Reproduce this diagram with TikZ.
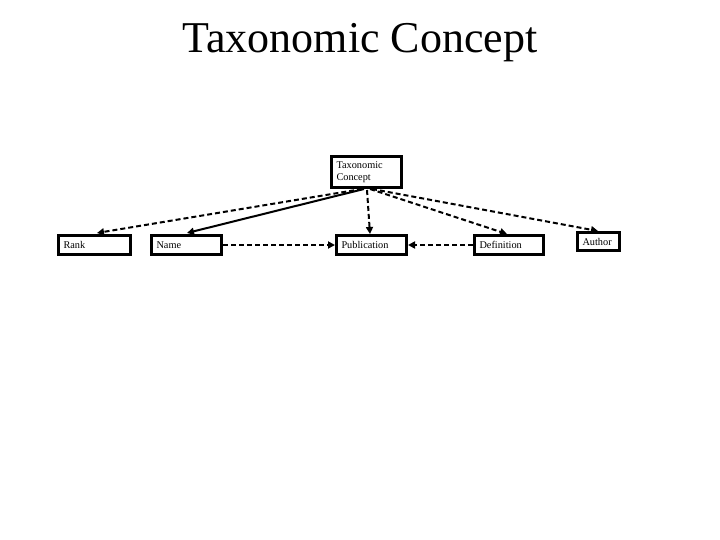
\documentclass[tikz,border=0pt]{standalone}
\usepackage{fontspec}
\setmainfont{Liberation Serif}
\usetikzlibrary{arrows.meta}
\begin{document}
\begin{tikzpicture}[x=1pt,y=-1pt,
  box/.style={draw=black,line width=3pt,inner xsep=5pt,inner ysep=0pt,
    align=left,font=\fontsize{10.3}{12}\selectfont,minimum height=19pt},
  dashconn/.style={line width=2pt,dash pattern=on 5pt off 3pt,
    -{Triangle[length=7pt,width=7pt]}},
  solidconn/.style={line width=2pt,-{Triangle[length=7pt,width=7pt]}}]
\fill[white] (0,0) rectangle (720,540);
\useasboundingbox (0,0) rectangle (720,540);
\node[anchor=base,font=\fontsize{44}{52}\selectfont] (title) at (360,53) {Taxonomic Concept};
\node[box,minimum height=31pt,text width=60pt] (tax) at (366.5,172) {Taxonomic\\Concept};
\node[box,text width=62pt] (rank) at (94.5,245) {Rank};
\node[box,text width=60pt] (name) at (186.5,245) {Name};
\node[box,text width=60pt] (pub) at (371.5,245) {Publication};
\node[box,text width=59pt] (def) at (509,245) {Definition};
\node[box,text width=32pt,minimum height=18pt] (auth) at (598.5,241.5) {Author};
\coordinate (sr) at (362,189);
\coordinate (sn) at (364,189);
\coordinate (sp) at (367,190);
\coordinate (sd) at (370,189);
\coordinate (sa) at (372,189);
\coordinate (tr) at (97,233);
\coordinate (tn) at (187,233);
\coordinate (tp) at (370,234);
\coordinate (td) at (507,234);
\coordinate (ta) at (598,231);
\draw[dashconn] (sr) -- (tr);
\draw[solidconn] (sn) -- (tn);
\draw[dashconn] (sp) -- (tp);
\draw[dashconn] (sd) -- (td);
\draw[dashconn] (sa) -- (ta);
\draw[dashconn] (name.east) -- (pub.west);
\draw[dashconn] (def.west) -- (pub.east);
\end{tikzpicture}
\end{document}
